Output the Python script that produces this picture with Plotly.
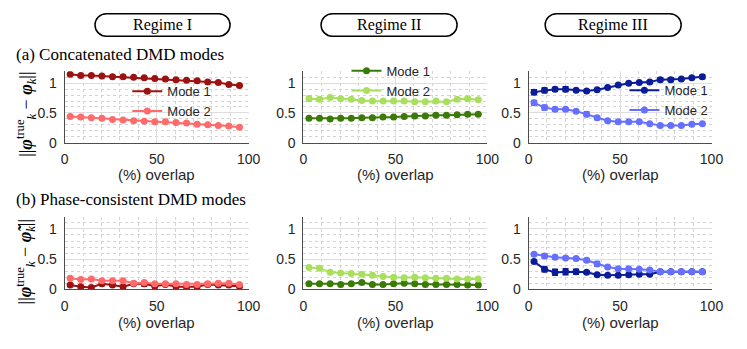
import plotly.graph_objects as go

W, H = 747, 349

overlap = [3.0, 8.75, 14.5, 20.25, 26.0, 31.75, 37.5, 43.25, 49.0, 54.75,
           60.5, 66.25, 72.0, 77.75, 83.5, 89.25, 95.0]

# (a) Concatenated DMD modes
a1_mode1 = [1.15, 1.13, 1.13, 1.12, 1.11, 1.11, 1.10, 1.09, 1.08, 1.07, 1.06, 1.05, 1.04, 1.02, 1.01, 0.98, 0.96]
a1_mode2 = [0.44, 0.43, 0.42, 0.41, 0.39, 0.38, 0.37, 0.36, 0.35, 0.35, 0.34, 0.33, 0.31, 0.30, 0.29, 0.28, 0.26]
a1_err1 = [0.01] * 17
a1_err2 = [0.01] * 17

a2_mode1 = [0.41, 0.41, 0.40, 0.41, 0.41, 0.42, 0.42, 0.43, 0.43, 0.44, 0.45, 0.45, 0.46, 0.46, 0.47, 0.48, 0.48]
a2_mode2 = [0.74, 0.73, 0.76, 0.74, 0.73, 0.71, 0.70, 0.70, 0.70, 0.70, 0.69, 0.69, 0.70, 0.69, 0.73, 0.74, 0.72]
a2_err1 = [0.01] * 17
a2_err2 = [0.04, 0.02, 0.01, 0.01, 0.01, 0.01, 0.01, 0.01, 0.01, 0.01, 0.01, 0.01, 0.01, 0.01, 0.02, 0.03, 0.02]

a3_mode1 = [0.85, 0.88, 0.90, 0.90, 0.88, 0.87, 0.89, 0.93, 0.97, 1.00, 1.01, 1.02, 1.06, 1.06, 1.07, 1.09, 1.11]
a3_mode2 = [0.67, 0.59, 0.56, 0.56, 0.53, 0.48, 0.42, 0.37, 0.35, 0.35, 0.35, 0.32, 0.29, 0.29, 0.29, 0.31, 0.32]
a3_err1 = [0.04, 0.04, 0.03, 0.04, 0.02, 0.01, 0.01, 0.01, 0.01, 0.01, 0.01, 0.02, 0.03, 0.03, 0.02, 0.02, 0.03]
a3_err2 = [0.04, 0.04, 0.03, 0.02, 0.02, 0.04, 0.03, 0.02, 0.02, 0.01, 0.01, 0.01, 0.01, 0.01, 0.01, 0.01, 0.01]

# (b) Phase-consistent DMD modes
b1_mode1 = [0.07, 0.04, 0.03, 0.09, 0.07, 0.04, 0.09, 0.09, 0.05, 0.08, 0.04, 0.04, 0.04, 0.08, 0.07, 0.07, 0.05]
b1_mode2 = [0.18, 0.16, 0.17, 0.14, 0.14, 0.14, 0.10, 0.11, 0.09, 0.09, 0.09, 0.08, 0.08, 0.09, 0.10, 0.10, 0.08]
b1_err1 = [0.02, 0.01, 0.02, 0.03, 0.02, 0.01, 0.02, 0.04, 0.01, 0.02, 0.02, 0.03, 0.02, 0.03, 0.02, 0.02, 0.02]
b1_err2 = [0.01] * 17

b2_mode1 = [0.09, 0.09, 0.09, 0.08, 0.09, 0.11, 0.08, 0.08, 0.09, 0.10, 0.09, 0.08, 0.08, 0.08, 0.08, 0.07, 0.07]
b2_mode2 = [0.36, 0.35, 0.28, 0.27, 0.26, 0.25, 0.23, 0.21, 0.20, 0.19, 0.20, 0.19, 0.18, 0.18, 0.17, 0.17, 0.17]
b2_err1 = [0.01] * 17
b2_err2 = [0.01, 0.03, 0.01, 0.01, 0.01, 0.01, 0.01, 0.01, 0.01, 0.01, 0.01, 0.01, 0.01, 0.01, 0.01, 0.01, 0.01]

b3_mode1 = [0.46, 0.33, 0.28, 0.29, 0.29, 0.28, 0.24, 0.23, 0.23, 0.24, 0.25, 0.25, 0.29, 0.29, 0.29, 0.29, 0.29]
b3_mode2 = [0.58, 0.55, 0.53, 0.52, 0.51, 0.48, 0.42, 0.37, 0.34, 0.34, 0.33, 0.32, 0.29, 0.29, 0.29, 0.29, 0.29]
b3_err1 = [0.01, 0.04, 0.05, 0.05, 0.04, 0.02, 0.02, 0.01, 0.01, 0.01, 0.01, 0.02, 0.01, 0.01, 0.01, 0.01, 0.01]
b3_err2 = [0.02, 0.03, 0.03, 0.02, 0.02, 0.03, 0.04, 0.02, 0.01, 0.01, 0.01, 0.01, 0.01, 0.01, 0.01, 0.01, 0.01]

regimes = ["Regime I", "Regime II", "Regime III"]
row_titles = ["(a) Concatenated DMD modes", "(b) Phase-consistent DMD modes"]
legend_names = ["Mode 1", "Mode 2"]
x_ticks = [0, 50, 100]
y_ticks = [0, 0.5, 1]
y_tick_text = ["0", "0.5", "1"]

colors = [("#9c1212", "#ff6a6a"), ("#3c7a08", "#a8e05e"), ("#0a1c98", "#6670ff")]

data = [
    [(a1_mode1, a1_err1, a1_mode2, a1_err2), (a2_mode1, a2_err1, a2_mode2, a2_err2), (a3_mode1, a3_err1, a3_mode2, a3_err2)],
    [(b1_mode1, b1_err1, b1_mode2, b1_err2), (b2_mode1, b2_err1, b2_mode2, b2_err2), (b3_mode1, b3_err1, b3_mode2, b3_err2)],
]

# layout in window pixels
col_px = [(62, 250), (306, 494), (536, 723)]
row_px = [(73, 146), (222, 296)]

def px2x(p):
    return p / W

def px2y(p):
    return 1 - p / H

SANS = "Liberation Sans, Arial, sans-serif"
SERIF = "Liberation Serif, Times New Roman, serif"
TXT = "#262626"

fig = go.Figure()
layout = dict(width=W, height=H, margin=dict(l=0, r=0, t=0, b=0),
              paper_bgcolor="white", plot_bgcolor="white", showlegend=True)

legend_keys = ["legend", "legend2", "legend3"]
for r in range(2):
    for c in range(3):
        idx = r * 3 + c + 1
        xa = "x" if idx == 1 else f"x{idx}"
        ya = "y" if idx == 1 else f"y{idx}"
        m1, e1, m2, e2 = data[r][c]
        for k, (vals, errs) in enumerate([(m1, e1), (m2, e2)]):
            col = colors[c][k]
            fig.add_trace(go.Scatter(
                x=overlap, y=vals, mode="lines+markers", name=legend_names[k],
                xaxis=xa, yaxis=ya,
                line=dict(color=col, width=2),
                marker=dict(color=col, size=7, symbol="circle"),
                error_y=dict(type="data", array=errs, color=col, thickness=1.5, width=3),
                showlegend=(r == 0), legend=legend_keys[c],
            ))
        x0, x1 = col_px[c]
        y0, y1 = row_px[r]
        axcommon = dict(showline=True, linecolor="#4d4d4d", linewidth=1, mirror=False,
                        ticks="", zeroline=False, tickfont=dict(family=SANS, size=14, color=TXT),
                        showgrid=True, gridcolor="#dedede", gridwidth=1)
        layout["xaxis" if idx == 1 else f"xaxis{idx}"] = dict(
            domain=[px2x(x0), px2x(x1)], anchor=ya, range=[0, 100],
            tickvals=x_ticks, ticktext=[str(v) for v in x_ticks], ticklabelstandoff=4,
            minor=dict(dtick=10, tick0=0, showgrid=True, gridcolor="#d4d4d4", griddash="dot", gridwidth=1),
            **axcommon)
        layout["yaxis" if idx == 1 else f"yaxis{idx}"] = dict(
            domain=[px2y(y1), px2y(y0)], anchor=xa, range=[0, 1.2],
            tickvals=y_ticks, ticktext=y_tick_text, ticklabelstandoff=4,
            minor=dict(dtick=0.1, tick0=0, showgrid=True, gridcolor="#d4d4d4", griddash="dot", gridwidth=1),
            **axcommon)

# legends (left edge, top edge in window pixels)
leg_pos = [(126, 78), (350, 57), (634, 77)]
for c, key in enumerate(legend_keys):
    lx, ly = leg_pos[c]
    layout[key] = dict(x=px2x(lx), y=px2y(ly), xanchor="left", yanchor="top",
                       xref="paper", yref="paper", bgcolor="rgba(255,255,255,0)",
                       borderwidth=0, font=dict(family=SANS, size=13, color=TXT),
                       itemwidth=30, tracegroupgap=0)

annotations = []
shapes = []

# regime boxes
box_px = [(93, 231), (324, 463), (553, 692)]
by0, by1 = 14, 37
for (bx0, bx1), name in zip(box_px, regimes):
    rr = (by1 - by0) / 2
    kk = 0.5523 * rr
    pts = [
        ("M", [(bx0 + rr, by0)]),
        ("L", [(bx1 - rr, by0)]),
        ("C", [(bx1 - rr + kk, by0), (bx1, by0 + rr - kk), (bx1, by0 + rr)]),
        ("C", [(bx1, by0 + rr + kk), (bx1 - rr + kk, by1), (bx1 - rr, by1)]),
        ("L", [(bx0 + rr, by1)]),
        ("C", [(bx0 + rr - kk, by1), (bx0, by1 - rr + kk), (bx0, by1 - rr)]),
        ("C", [(bx0, by1 - rr - kk), (bx0 + rr - kk, by0), (bx0 + rr, by0)]),
    ]
    path = ""
    for cmd, pp in pts:
        path += cmd + " " + " ".join(f"{px2x(a):.5f},{px2y(b):.5f}" for a, b in pp) + " "
    path += "Z"
    shapes.append(dict(type="path", xref="paper", yref="paper", path=path,
                       line=dict(color="black", width=1.5), fillcolor="rgba(0,0,0,0)"))
    annotations.append(dict(text=name, x=px2x((bx0 + bx1) / 2), y=px2y((by0 + by1) / 2),
                            xref="paper", yref="paper", showarrow=False,
                            xanchor="center", yanchor="middle",
                            font=dict(family=SERIF, size=16, color="black")))

# row titles
for r, (t, ty) in enumerate(zip(row_titles, [56, 204])):
    annotations.append(dict(text=t, x=px2x(10), y=px2y(ty), xref="paper", yref="paper",
                            showarrow=False, xanchor="left", yanchor="middle",
                            font=dict(family=SERIF, size=17, color="black")))

# x axis titles
for r, ty in enumerate([179, 330]):
    for c in range(3):
        x0, x1 = col_px[c]
        annotations.append(dict(text="(%) overlap", x=px2x((x0 + x1) / 2), y=px2y(ty),
                                xref="paper", yref="paper", showarrow=False,
                                xanchor="center", yanchor="middle",
                                font=dict(family=SANS, size=15, color=TXT)))

# y axis titles
ylabels = [
    "||<b><i>φ</i></b><sup>true</sup><sub><i>k</i></sub> − <b><i>φ</i></b><sub><i>k</i></sub>||",
    "||<b><i>φ</i></b><sup>true</sup><sub><i>k</i></sub> − <b><i>φ̃</i></b><sub><i>k</i></sub>||",
]
label_centers = [117, 268]
for r, lab in enumerate(ylabels):
    annotations.append(dict(text=lab, x=px2x(22), y=px2y(label_centers[r]), xref="paper", yref="paper",
                            showarrow=False, textangle=-90, xanchor="center", yanchor="middle",
                            font=dict(family=SERIF, size=18, color="black")))

layout["annotations"] = annotations
layout["shapes"] = shapes
fig.update_layout(**layout)

page_css = (
    "document.documentElement.style.margin='0';"
    "document.documentElement.style.overflow='hidden';"
    "document.body.style.margin='0';"
    "document.body.style.overflow='hidden';"
)
fig.write_html("out.html", post_script=page_css, config={"displayModeBar": False})
